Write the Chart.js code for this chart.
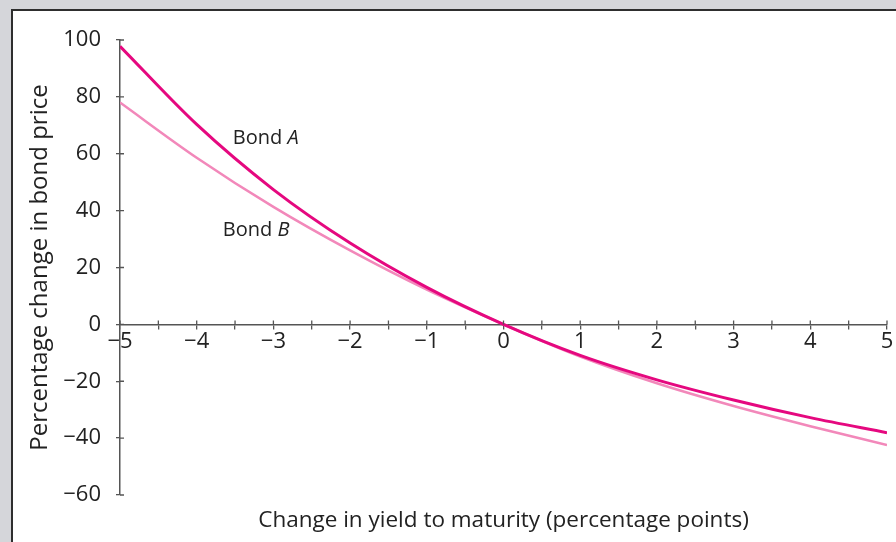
<!DOCTYPE html>
<html>
<head>
<meta charset="utf-8">
<script src="https://cdn.jsdelivr.net/npm/chart.js@4.4.1/dist/chart.umd.min.js"></script>
<style>
  html, body { margin: 0; padding: 0; background: #d5d6da; overflow: hidden; }
  .panel {
    position: absolute; left: 11px; top: 9px; width: 960px; height: 620px;
    background: #fff; border: 2px solid #2e2e2e; box-sizing: border-box;
  }
  #chart { position: absolute; left: 0; top: 0; }
</style>
</head>
<body>
<div class="panel"></div>
<canvas id="chart" width="896" height="542"></canvas>
<script>
// change in yield to maturity (percentage points)
const yieldChange = [-5, -4, -3, -2, -1, 0, 1, 2, 3, 4, 5];
// percentage change in bond price
const bondA = [97.8, 70.3, 47.4, 28.6, 13.0, 0, -10.9, -19.5, -26.6, -32.8, -38.1];
const bondB = [78, 58.6, 41.3, 26.0, 12.2, 0, -11.3, -20.7, -28.7, -35.8, -42.4];
const yTicks = [-60, -40, -20, 0, 20, 40, 60, 80, 100];

const FONT = "'Open Sans', 'Noto Sans', sans-serif";
const AXIS_COLOR = '#555';
const minus = v => String(v).replace('-', '\u2212');

// little marks on the inner side of each axis so the ticks cross the line
const crossTicks = {
  id: 'crossTicks',
  afterDraw(chart) {
    const ctx = chart.ctx;
    const xs = chart.scales.x, ys = chart.scales.y;
    const y0 = ys.getPixelForValue(0);
    ctx.save();
    ctx.strokeStyle = AXIS_COLOR;
    ctx.lineWidth = 1.3;
    ctx.beginPath();
    xs.ticks.forEach(t => {
      const px = xs.getPixelForValue(t.value);
      ctx.moveTo(px, y0);
      ctx.lineTo(px, y0 - 4);
    });
    ys.ticks.forEach(t => {
      const py = ys.getPixelForValue(t.value);
      ctx.moveTo(ys.right, py);
      ctx.lineTo(ys.right + 4, py);
    });
    ctx.stroke();
    ctx.restore();
  }
};

// "Bond A" / "Bond B" labels, with the letter in italics
const bondLabels = [
  { name: 'Bond ', letter: 'A', x: -3.53, y: 65.5 },
  { name: 'Bond ', letter: 'B', x: -3.66, y: 33 }
];
const curveLabels = {
  id: 'curveLabels',
  afterDatasetsDraw(chart) {
    const ctx = chart.ctx;
    const xs = chart.scales.x, ys = chart.scales.y;
    ctx.save();
    ctx.fillStyle = '#222';
    ctx.textBaseline = 'middle';
    bondLabels.forEach(l => {
      const px = xs.getPixelForValue(l.x);
      const py = ys.getPixelForValue(l.y);
      ctx.font = '20px ' + FONT;
      ctx.fillText(l.name, px, py);
      const w = ctx.measureText(l.name).width;
      ctx.font = 'italic 20px ' + FONT;
      ctx.fillText(l.letter, px + w, py);
    });
    ctx.restore();
  }
};

const toPoints = arr => arr.map((v, i) => ({ x: yieldChange[i], y: v }));

new Chart(document.getElementById('chart'), {
  type: 'line',
  data: {
    datasets: [
      {
        label: 'Bond A',
        data: toPoints(bondA),
        borderColor: '#e5087f',
        borderWidth: 3,
        pointRadius: 0,
        cubicInterpolationMode: 'monotone'
      },
      {
        label: 'Bond B',
        data: toPoints(bondB),
        borderColor: '#f288ba',
        borderWidth: 2.5,
        pointRadius: 0,
        cubicInterpolationMode: 'monotone'
      }
    ]
  },
  options: {
    responsive: false,
    animation: false,
    layout: { padding: { left: 0, right: 9, top: 40, bottom: 4 } },
    plugins: {
      legend: { display: false },
      tooltip: { enabled: false }
    },
    scales: {
      x: {
        type: 'linear',
        position: { y: 0 },
        min: -5,
        max: 5,
        border: { color: AXIS_COLOR, width: 1.5 },
        grid: { drawOnChartArea: false, tickLength: 4, color: AXIS_COLOR, lineWidth: 1.3 },
        ticks: {
          stepSize: 0.5,
          autoSkip: false,
          maxRotation: 0,
          padding: 0,
          color: '#222',
          font: { family: FONT, size: 22 },
          callback: v => Number.isInteger(v) ? minus(v) : ''
        }
      },
      x2: {
        type: 'linear',
        position: 'bottom',
        min: -5,
        max: 5,
        grid: { display: false },
        border: { display: false },
        ticks: { display: false },
        afterFit: s => { s.height = 43; },
        title: {
          display: true,
          text: 'Change in yield to maturity (percentage points)',
          color: '#222',
          font: { family: FONT, size: 22.5 },
          padding: { top: 0, bottom: 4 }
        }
      },
      y: {
        type: 'linear',
        min: -60,
        max: 100,
        border: { color: AXIS_COLOR, width: 1.5 },
        grid: { drawOnChartArea: false, tickLength: 4, color: AXIS_COLOR, lineWidth: 1.3 },
        afterFit: s => { s.width = 120; },
        afterBuildTicks: s => { s.ticks = yTicks.map(v => ({ value: v })); },
        ticks: {
          padding: 15,
          color: '#222',
          font: { family: FONT, size: 22 },
          callback: v => minus(v)
        },
        title: {
          display: true,
          text: 'Percentage change in bond price',
          color: '#222',
          font: { family: FONT, size: 24 },
          padding: { top: 26, bottom: 0 }
        }
      }
    }
  },
  plugins: [crossTicks, curveLabels]
});
</script>
</body>
</html>
